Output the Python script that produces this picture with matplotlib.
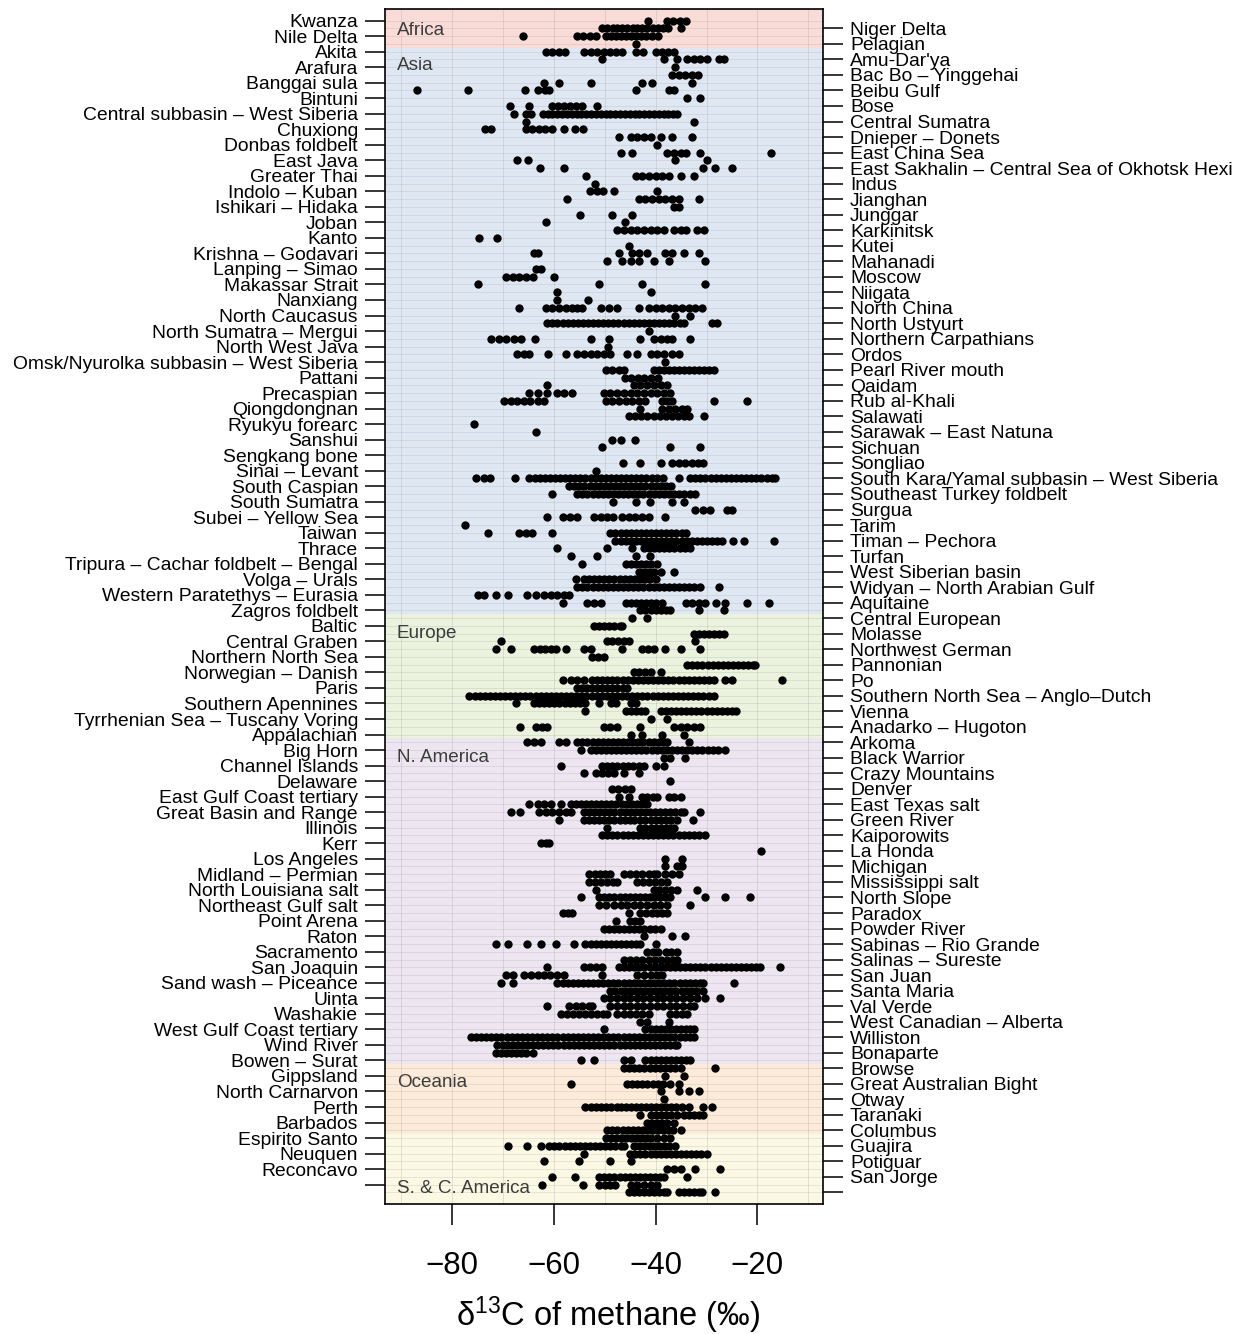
import matplotlib
matplotlib.use("Agg")
import matplotlib.pyplot as plt
from matplotlib.transforms import blended_transform_factory

plt.rcParams['font.family'] = ['Liberation Sans', 'DejaVu Sans']
plt.rcParams['mathtext.fontset'] = 'custom'
plt.rcParams['mathtext.rm'] = 'Liberation Sans'
plt.rcParams['mathtext.it'] = 'Liberation Sans:italic'

# Basin names, alternating left / right ticks from the top
LEFT_LABELS = [
    "Kwanza", "Nile Delta", "Akita", "Arafura", "Banggai sula", "Bintuni",
    "Central subbasin – West Siberia", "Chuxiong", "Donbas foldbelt", "East Java",
    "Greater Thai", "Indolo – Kuban", "Ishikari – Hidaka", "Joban", "Kanto",
    "Krishna – Godavari", "Lanping – Simao", "Makassar Strait", "Nanxiang",
    "North Caucasus", "North Sumatra – Mergui", "North West Java",
    "Omsk/Nyurolka subbasin – West Siberia", "Pattani", "Precaspian", "Qiongdongnan",
    "Ryukyu forearc", "Sanshui", "Sengkang bone", "Sinai – Levant", "South Caspian",
    "South Sumatra", "Subei – Yellow Sea", "Taiwan", "Thrace",
    "Tripura – Cachar foldbelt – Bengal", "Volga – Urals", "Western Paratethys – Eurasia",
    "Zagros foldbelt", "Baltic", "Central Graben", "Northern North Sea",
    "Norwegian – Danish", "Paris", "Southern Apennines", "Tyrrhenian Sea – Tuscany Voring",
    "Appalachian", "Big Horn", "Channel Islands", "Delaware", "East Gulf Coast tertiary",
    "Great Basin and Range", "Illinois", "Kerr", "Los Angeles", "Midland – Permian",
    "North Louisiana salt", "Northeast Gulf salt", "Point Arena", "Raton", "Sacramento",
    "San Joaquin", "Sand wash – Piceance", "Uinta", "Washakie", "West Gulf Coast tertiary",
    "Wind River", "Bowen – Surat", "Gippsland", "North Carnarvon", "Perth", "Barbados",
    "Espirito Santo", "Neuquen", "Reconcavo",
]
RIGHT_LABELS = [
    "Niger Delta", "Pelagian", "Amu-Dar'ya", "Bac Bo – Yinggehai", "Beibu Gulf", "Bose",
    "Central Sumatra", "Dnieper – Donets", "East China Sea",
    "East Sakhalin – Central Sea of Okhotsk Hexi", "Indus", "Jianghan", "Junggar",
    "Karkinitsk", "Kutei", "Mahanadi", "Moscow", "Niigata", "North China", "North Ustyurt",
    "Northern Carpathians", "Ordos", "Pearl River mouth", "Qaidam", "Rub al-Khali",
    "Salawati", "Sarawak – East Natuna", "Sichuan", "Songliao",
    "South Kara/Yamal subbasin – West Siberia", "Southeast Turkey foldbelt", "Surgua",
    "Tarim", "Timan – Pechora", "Turfan", "West Siberian basin",
    "Widyan – North Arabian Gulf", "Aquitaine", "Central European", "Molasse",
    "Northwest German", "Pannonian", "Po", "Southern North Sea – Anglo–Dutch", "Vienna",
    "Anadarko – Hugoton", "Arkoma", "Black Warrior", "Crazy Mountains", "Denver",
    "East Texas salt", "Green River", "Kaiporowits", "La Honda", "Michigan",
    "Mississippi salt", "North Slope", "Paradox", "Powder River", "Sabinas – Rio Grande",
    "Salinas – Sureste", "San Juan", "Santa Maria", "Val Verde", "West Canadian – Alberta",
    "Williston", "Bonaparte", "Browse", "Great Australian Bight", "Otway", "Taranaki",
    "Columbus", "Guajira", "Potiguar", "San Jorge",
]

REGIONS = ["Africa", "Asia", "Europe", "N. America", "Oceania", "S. & C. America"]
REGION_COLORS = ["#f9dcd8", "#dfe8f2", "#ebf2de", "#ede6f1", "#fcebd8", "#fbf9e3"]
REGION_LABEL_ROWS = [2.25, 6.8, 80.0, 95.9, 137.8, 151.5]

# delta13C of methane (permil) for each row, top to bottom, grouped by region
AFRICA = [
    [-41.5, -37.8, -36.5, -35.2, -34.0],
    [-50.5, -49.5, -48.4, -47.5, -46.6, -45.6, -44.5, -43.6, -42.6, -41.6, -40.6, -39.6, -38.6, -37.6, -35.0],
    [-66.0, -55.4, -54.2, -53.0, -51.8, -49.8, -48.8, -47.8, -46.8, -45.8, -44.8, -43.8, -42.8, -41.8, -40.8, -39.6],
    [-43.9],
]

ASIA = [
    [-61.6, -60.3, -59.0, -57.8, -54.1, -52.8, -51.5, -50.2, -48.9, -47.8, -46.6, -43.9, -42.4, -40.0, -38.7, -37.5, -36.4],
    [-50.5, -38.4, -35.8, -33.8, -32.5, -31.2, -30.0, -27.6, -26.6],
    [-36.1],
    [-36.8, -35.5, -34.2, -32.9, -31.6],
    [-61.9, -59.0, -52.8, -42.6, -40.7, -32.8],
    [-87.0, -76.8, -65.7, -63.2, -61.8, -60.9, -43.8, -37.4, -36.4],
    [-33.9, -31.3],
    [-68.6, -64.9, -60.3, -59.1, -58.0, -56.8, -55.6, -54.5, -51.5],
    [-67.8, -65.5, -64.5, -62.2, -61.2, -60.3, -59.3, -58.4, -57.4, -56.5, -55.5, -54.6, -53.6, -52.7, -51.7,
     -50.8, -49.8, -48.9, -47.9, -47.0, -46.0, -45.1, -44.1, -43.2, -42.2, -41.3, -40.3, -39.4, -38.4, -37.5,
     -36.5, -35.8],
    [-65.5, -32.5],
    [-73.6, -72.4, -65.5, -64.3, -63.0, -61.7, -60.4, -58.0, -55.8, -54.2],
    [-47.2, -44.9, -43.6, -42.3, -41.0, -39.0, -36.8, -32.8],
    [-39.7],
    [-46.9, -44.6, -37.7, -36.4, -35.1, -34.1, -31.2, -17.4],
    [-67.3, -65.1, -36.1, -30.0],
    [-62.8, -58.0, -30.6, -28.4, -25.0],
    [-53.6, -43.9, -42.6, -41.3, -40.0, -38.7, -37.4, -35.1, -32.5],
    [-51.9],
    [-52.9, -51.6, -50.3, -48.2, -39.8],
    [-57.5, -43.3, -42.0, -40.7, -39.4, -38.1, -36.8, -35.5, -31.5],
    [-36.4, -35.5],
    [-54.9, -48.5, -44.6],
    [-61.6, -46.1],
    [-47.5, -46.2, -44.9, -43.6, -42.3, -41.0, -39.7, -38.4, -36.4, -35.1, -34.1, -31.8, -30.5],
    [-74.7, -71.2],
    [-45.3],
    [-64.0, -63.1, -47.2, -44.6, -43.3, -41.7, -38.1, -36.8, -34.5, -31.5],
    [-49.6, -46.6, -44.9, -43.3, -40.4, -37.4, -30.2],
    [-63.6, -62.6],
    [-69.4, -68.1, -66.8, -65.5, -64.2, -60.0],
    [-75.0, -51.1, -42.6, -30.2],
    [-59.3, -41.0],
    [-59.3, -53.3],
    [-66.8, -61.6, -60.3, -59.0, -57.7, -56.4, -55.4, -54.4, -50.8, -49.2, -47.5, -43.3, -41.3, -40.0, -38.7,
     -37.4, -36.1, -34.8, -33.5, -32.2, -30.9],
    [-36.1, -33.2],
    [-61.3, -60.3, -59.3, -58.3, -57.3, -56.3, -55.3, -54.3, -53.3, -52.3, -51.3, -50.3, -49.3, -48.3, -47.3,
     -46.3, -45.3, -44.3, -43.3, -42.3, -41.3, -40.3, -39.3, -38.3, -37.3, -36.3, -35.3, -34.5, -28.9, -28.0],
    [-41.3],
    [-72.3, -70.8, -69.4, -67.8, -66.5, -63.8, -52.8, -49.2, -43.0, -40.4, -39.0, -37.7, -36.8, -33.3],
    [-49.4],
    [-67.2, -65.9, -64.9, -61.1, -57.7, -55.4, -54.1, -52.8, -51.5, -50.2, -48.9, -45.6, -43.6, -41.0, -39.7,
     -38.4, -36.8, -35.5],
    [-38.1],
    [-49.8, -48.5, -47.2, -46.2, -40.4, -39.4, -38.4, -37.4, -36.4, -35.4, -34.4, -33.4, -32.4, -31.4, -30.4,
     -29.5, -28.6],
    [-46.1, -44.8, -43.5, -42.2, -40.9, -39.6],
    [-61.3, -44.3, -43.0, -41.7, -40.4, -39.0, -37.7],
    [-64.9, -63.2, -61.3, -59.3, -58.0, -56.4, -50.2, -48.9, -47.5, -46.2, -44.9, -43.6, -42.3, -41.0, -39.7,
     -38.4, -37.1],
    [-69.8, -68.5, -67.2, -65.9, -64.6, -63.2, -61.9, -49.8, -48.5, -47.2, -45.9, -44.6, -43.3, -42.0, -38.7,
     -37.7, -36.7, -28.6, -22.0],
    [-43.0, -38.7, -37.4, -36.1, -34.8, -33.8],
    [-45.2, -44.0, -42.8, -41.6, -40.4, -39.2, -38.0, -36.8, -35.6, -34.4, -33.4, -30.5],
    [-75.8],
    [-63.6],
    [-48.5, -46.9, -44.1],
    [-50.5, -37.2, -31.2],
    [],
    [-46.4, -43.1, -39.0, -36.8, -35.5, -34.2, -32.9, -31.6, -30.6],
    [-51.8],
    [-75.3, -73.7, -72.5, -67.6, -64.8, -63.8, -62.8, -61.8, -60.8, -59.8, -58.8, -57.8, -56.8, -55.8, -54.8,
     -53.8, -52.8, -51.8, -50.8, -49.8, -48.8, -47.8, -46.8, -45.8, -44.8, -43.8, -42.8, -41.8, -40.8, -39.8,
     -38.6, -35.5, -33.2, -32.2, -31.2, -30.2, -29.2, -28.2, -27.2, -26.2, -25.2, -24.2, -23.2, -22.2, -21.2,
     -20.2, -19.2, -18.2, -17.2, -16.5],
    [-57.0, -56.0, -55.0, -54.0, -53.0, -52.0, -51.0, -50.0, -49.0, -48.0, -47.0, -46.0, -45.0, -44.0, -43.0,
     -42.0, -41.0, -40.0, -39.0, -38.0, -37.0],
    [-60.3, -55.4, -54.4, -53.4, -52.4, -51.4, -50.4, -49.4, -48.4, -47.4, -46.4, -45.4, -44.4, -43.4, -42.4,
     -41.4, -40.4, -39.4, -38.4, -37.4, -36.4, -35.4, -34.4, -33.3, -32.2],
    [-48.3, -43.8, -41.2, -36.8, -34.5],
    [-32.2, -30.6, -29.3, -26.0, -25.0],
    [-61.4, -58.3, -56.8, -55.5, -52.1, -50.8, -49.5, -48.3, -46.6, -45.3, -44.0, -42.6, -41.3, -38.1],
    [-77.5],
    [-72.9, -66.8, -65.5, -64.4, -60.3, -48.9, -47.9, -46.9, -45.9, -44.9, -43.9, -42.9, -41.9, -40.9, -39.9,
     -38.9, -37.9, -36.9, -35.9, -34.9, -34.1],
    [-47.9, -46.9, -45.9, -44.9, -43.9, -42.9, -41.9, -40.9, -39.9, -38.9, -37.9, -36.9, -35.9, -34.9, -33.9,
     -32.9, -31.9, -30.9, -29.9, -28.9, -27.9, -27.0, -24.7, -22.7, -16.8],
    [-59.4, -49.6, -44.6, -42.3, -41.3, -40.3, -39.3, -38.3, -37.3, -36.3, -35.3, -34.3, -33.2],
    [-56.6, -51.5, -43.9, -41.2],
    [-54.4, -45.9, -44.9, -43.9, -42.9, -41.9, -40.9, -39.7],
    [-43.3, -42.3, -41.3, -40.3, -39.0, -36.3],
    [-55.7, -54.1, -53.1, -52.1, -51.1, -50.1, -49.1, -48.1, -47.1, -46.1, -45.1, -44.1, -43.1, -42.1, -41.1,
     -40.0],
    [-55.4, -54.4, -53.4, -52.4, -51.4, -50.4, -49.4, -48.4, -47.4, -46.4, -45.4, -44.4, -43.4, -42.4, -41.4,
     -40.4, -39.4, -38.4, -37.4, -36.4, -35.4, -34.4, -33.4, -32.4, -31.2, -27.6],
    [-75.0, -73.7, -71.4, -69.0, -65.2, -63.6, -61.9, -60.6, -59.3, -58.0, -57.0],
    [-58.3, -53.4, -52.1, -50.8, -45.9, -44.9, -43.9, -42.9, -41.9, -40.9, -39.9, -38.7, -34.1, -32.8, -31.5,
     -30.2, -28.2, -26.3, -22.1, -17.8],
    [-43.0, -42.0, -41.0, -40.0, -39.0, -38.0, -37.1, -31.5, -26.6],
]

EUROPE = [
    [-44.6, -41.7],
    [-52.1, -51.1, -50.1, -49.1, -48.1, -47.1, -46.6],
    [-32.5, -31.5, -30.5, -29.5, -28.5, -27.5, -26.6],
    [-70.4, -49.5, -48.5, -47.3, -46.3, -45.3, -32.3],
    [-71.4, -68.5, -63.9, -62.8, -61.7, -60.6, -59.6, -57.7, -54.1, -52.8, -46.6, -42.6, -41.5, -40.4, -38.1,
     -35.1, -31.3],
    [-52.5, -51.4, -50.2],
    [-33.8, -32.8, -31.8, -30.8, -29.8, -28.8, -27.8, -26.8, -25.8, -24.8, -23.8, -22.8, -21.8, -20.8, -20.4],
    [-44.3, -43.2, -42.1, -41.0, -39.0],
    [-58.3, -56.7, -55.4, -54.1, -52.5, -51.5, -50.5, -49.5, -48.5, -47.5, -46.5, -45.5, -44.5, -43.5, -42.5,
     -41.5, -40.5, -39.5, -38.5, -37.5, -36.5, -35.5, -34.5, -33.5, -32.5, -31.5, -30.5, -29.6, -28.6, -26.3,
     -25.0, -15.1],
    [-55.5, -54.5, -53.5, -52.5, -51.5, -50.5, -49.5, -48.5, -47.5, -46.5, -45.6],
    [-76.6, -75.6, -74.6, -73.6, -72.6, -71.6, -70.6, -69.6, -68.6, -67.6, -66.6, -65.6, -64.6, -63.6, -62.6,
     -61.6, -60.6, -59.6, -58.6, -57.6, -56.6, -55.6, -54.6, -53.6, -52.6, -51.6, -50.6, -49.6, -48.6, -47.6,
     -46.6, -45.6, -44.6, -43.6, -42.6, -41.6, -40.6, -39.6, -38.6, -37.6, -36.6, -35.6, -34.6, -33.6, -32.6,
     -31.6, -30.6, -29.6, -28.6],
    [-67.5, -63.9, -62.9, -61.9, -60.9, -59.9, -58.9, -57.9, -56.9, -55.9, -54.9, -53.9, -51.1, -48.8, -47.8,
     -44.9, -43.8],
    [-53.8, -45.9, -44.9, -43.9, -42.9, -42.0, -39.0, -38.0, -37.0, -36.0, -35.0, -34.0, -33.0, -32.0, -31.0,
     -30.0, -29.0, -28.0, -27.0, -26.0, -25.0, -24.3],
    [-41.0, -37.7],
    [-66.6, -63.6, -62.3, -61.3, -50.2, -48.9, -47.5, -43.0, -36.4, -35.1, -33.8, -32.5, -31.2],
    [-44.9, -42.6, -38.7, -34.5],
]

N_AMERICA = [
    [-65.2, -63.9, -62.6, -59.0, -57.7, -55.4, -54.4, -53.4, -52.4, -51.4, -50.4, -49.4, -48.4, -47.4, -46.4,
     -45.4, -44.4, -43.4, -42.4, -41.4, -40.4, -39.4, -38.4, -37.7, -33.5],
    [-54.7, -52.8, -51.8, -50.8, -49.8, -48.8, -47.8, -46.8, -45.8, -44.8, -43.8, -42.8, -41.8, -40.8, -39.8,
     -38.8, -37.8, -36.8, -35.8, -34.8, -33.8, -32.8, -31.8, -30.8, -29.8, -28.8, -27.8, -26.3],
    [-38.4, -37.1, -34.2],
    [-58.7, -50.5, -49.5, -48.5, -47.5, -46.5, -45.5, -44.5, -43.3, -42.3, -40.0, -38.4],
    [-54.1, -51.8, -50.6, -49.4, -48.2, -46.2, -43.3],
    [-37.1],
    [-48.5, -47.3, -46.1, -44.9],
    [-47.2, -45.2, -42.6, -41.6, -40.6, -39.7, -37.4, -36.4, -35.1],
    [-64.9, -63.2, -62.0, -60.5, -58.7, -56.7, -55.7, -54.7, -53.7, -52.7, -51.7, -50.7, -49.7, -48.7, -47.7,
     -46.7, -45.7, -44.7, -43.7, -42.7, -41.7],
    [-68.5, -66.6, -62.9, -61.6, -60.3, -59.0, -57.7, -56.7, -54.1, -53.1, -52.1, -51.1, -50.1, -49.1, -48.1,
     -47.1, -46.1, -45.1, -44.1, -43.1, -42.1, -41.1, -40.1, -39.1, -38.1, -37.1, -36.1, -35.1, -34.5, -31.2],
    [-59.0, -54.1, -53.1, -52.1, -51.1, -50.1, -49.1, -48.1, -47.1, -46.1, -45.1, -44.3, -43.0, -42.0, -41.0,
     -40.0, -39.0, -38.0, -37.0, -35.8, -32.6],
    [-49.5, -43.0, -42.0, -41.0, -40.0, -39.0, -38.0, -37.2, -36.4],
    [-50.5, -49.5, -48.5, -47.5, -46.5, -45.5, -44.5, -43.5, -42.5, -41.5, -40.5, -39.5, -38.5, -37.5, -36.5,
     -35.5, -34.5, -33.5, -32.5, -31.5, -30.2],
    [-62.6, -61.6, -61.0],
    [-19.3],
    [-38.1, -34.9],
    [-38.1, -35.8, -34.9],
    [-53.1, -52.0, -50.9, -49.9, -48.9, -46.2, -45.0, -43.8, -42.6, -41.4, -40.3, -39.7, -38.1, -36.8, -35.5],
    [-53.1, -51.9, -50.7, -49.5, -48.4, -47.5, -43.6, -42.5, -41.3, -40.2, -39.0, -37.7],
    [-51.8, -40.4, -39.3, -38.2, -37.0, -35.8, -31.9],
    [-54.7, -51.1, -50.1, -49.1, -48.1, -47.1, -46.1, -45.1, -44.1, -43.1, -42.1, -41.1, -40.1, -39.1, -38.1,
     -37.1, -30.2, -26.3, -21.4],
    [-51.1, -49.8, -48.2, -46.9, -45.6, -44.3, -43.0, -41.7, -40.4, -39.1, -37.7, -33.2],
    [-58.3, -57.2, -56.4, -45.3, -43.0, -41.9, -40.8, -39.7, -38.7, -37.7],
    [-47.7, -45.0, -44.0, -43.0],
    [-50.2, -49.2, -48.2, -47.2, -46.2, -45.2, -44.2, -43.2, -42.2, -41.2, -40.2, -39.0],
    [-42.3, -36.8, -34.2],
    [-71.4, -69.0, -65.2, -62.6, -59.6, -56.0, -53.8, -52.8, -51.8, -50.8, -49.8, -48.8, -47.8, -46.8, -45.8,
     -44.8, -43.8, -43.0, -40.0],
    [-41.7, -40.6, -39.5, -38.0, -36.9, -35.8],
    [-46.2, -45.0, -43.8, -42.6, -41.4, -40.2, -39.0, -37.8, -36.6, -35.8],
    [-61.4, -54.1, -52.9, -51.7, -50.5, -47.2, -46.2, -45.2, -44.2, -43.2, -42.2, -41.2, -40.2, -39.2, -38.2,
     -37.2, -36.2, -35.2, -34.2, -33.2, -32.2, -31.2, -30.2, -29.2, -28.2, -27.2, -26.2, -25.2, -24.2, -23.2,
     -22.2, -21.2, -20.2, -19.5, -15.5],
    [-69.4, -68.1, -65.8, -64.5, -63.2, -62.0, -60.7, -59.4, -58.1, -50.5, -43.6, -42.3, -41.0, -39.7, -38.7],
    [-70.4, -68.1, -59.3, -58.3, -57.3, -56.3, -55.3, -54.3, -53.3, -52.3, -51.3, -50.3, -49.3, -48.3, -47.3,
     -46.3, -45.3, -44.3, -43.3, -42.3, -41.3, -40.3, -39.3, -38.3, -37.3, -36.3, -35.3, -34.3, -33.3, -32.3,
     -31.3, -30.6, -24.5],
    [-48.9, -47.9, -46.9, -45.9, -44.9, -43.9, -42.9, -41.9, -40.9, -39.9, -38.9, -37.9, -36.9, -35.9, -34.9,
     -33.9, -32.9, -31.9, -30.6],
    [-50.2, -48.9, -47.6, -46.3, -45.0, -43.7, -42.4, -41.1, -39.8, -38.5, -37.2, -35.9, -34.6, -33.3, -31.9,
     -30.2, -27.3],
    [-61.3, -57.0, -55.7, -54.4, -53.1, -52.5, -48.9, -47.6, -46.3, -45.0, -43.7, -42.4, -41.1, -39.8, -38.5,
     -37.2, -35.9, -34.6, -33.3, -32.5],
    [-58.7, -57.5, -56.3, -55.1, -53.9, -52.7, -51.5, -50.3, -49.5, -47.5, -46.3, -45.1, -43.9, -42.7, -41.3,
     -37.1, -35.9, -34.8, -33.8],
    [-43.0, -41.7, -37.4],
    [-50.2, -42.0, -41.0, -40.0, -39.0, -38.0, -37.0, -36.0, -35.0, -34.0, -33.2, -32.5],
    [-76.3, -75.3, -74.3, -73.3, -72.3, -71.3, -70.3, -69.3, -68.3, -67.3, -66.3, -65.3, -64.3, -63.3, -62.3,
     -61.3, -60.3, -59.3, -58.3, -57.3, -56.3, -55.3, -54.3, -53.3, -52.3, -51.3, -50.3, -49.3, -48.3, -47.3,
     -46.3, -45.3, -44.3, -43.3, -42.3, -41.3, -40.3, -39.3, -38.3, -37.3, -36.3, -35.3, -34.3, -33.3, -32.5],
    [-71.1, -70.1, -69.1, -68.1, -67.1, -66.1, -65.1, -64.1, -63.1, -62.1, -61.1, -60.1, -59.1, -58.1, -57.1,
     -56.1, -55.1, -54.1, -53.1, -52.1, -51.1, -50.1, -49.1, -48.1, -47.1, -46.1, -45.1, -44.1, -43.1, -42.1,
     -41.1, -40.1, -39.1, -38.1, -37.1, -36.1, -35.8],
    [-71.4, -70.4, -69.4, -68.4, -67.4, -66.4, -65.4, -64.2],
    [-54.7, -52.1, -46.2, -44.9, -42.0, -41.0, -40.0, -39.0, -38.0, -37.0, -36.0, -35.0, -34.0, -33.2],
]

OCEANIA = [
    [-46.2, -45.2, -44.2, -43.2, -42.2, -41.2, -40.2, -39.2, -38.2, -37.2, -36.2, -35.1, -28.3],
    [-38.1, -34.5],
    [-56.7, -45.6, -44.6, -43.6, -42.6, -41.6, -40.6, -39.6, -38.6, -37.1, -35.5],
    [-39.0, -35.5, -33.5, -31.5],
    [-38.4],
    [-53.8, -52.8, -51.8, -50.8, -49.8, -48.8, -47.5, -46.9, -45.9, -44.9, -43.9, -42.9, -41.9, -40.9, -39.9,
     -38.9, -37.9, -36.9, -35.9, -34.9, -33.5, -30.6, -28.9],
    [-43.0, -41.0, -40.0, -39.0, -38.0, -37.0, -35.8, -34.5, -33.5, -32.5, -31.5, -30.6],
    [-41.7, -40.7, -39.7, -38.7, -37.7, -36.4],
    [-49.5, -48.5, -47.5, -46.5, -45.5, -44.5, -43.5, -42.5, -41.5, -40.5, -39.5, -38.5, -37.5, -36.5, -35.1],
]

SC_AMERICA = [
    [-49.8, -48.8, -47.8, -46.8, -45.8, -44.8, -43.8, -42.8, -41.8, -41.0, -39.7, -38.4, -37.1],
    [-69.0, -65.2, -62.6, -60.9, -59.9, -58.9, -57.9, -56.9, -55.9, -54.9, -53.9, -52.9, -51.9, -50.9, -49.9,
     -48.9, -47.9, -46.9, -46.2, -44.3, -43.3, -42.3, -41.3, -40.3, -39.3, -38.3, -37.3, -36.1],
    [-54.1, -45.0, -44.0, -43.0, -42.0, -41.0, -40.0, -39.0, -38.0, -37.0, -36.0, -35.0, -34.0, -33.0, -32.0,
     -31.0, -29.9],
    [-61.9, -55.1, -48.9, -44.9],
    [-37.7, -36.4, -35.1, -32.2, -27.4],
    [-60.3, -55.9, -51.1, -50.1, -49.1, -48.1, -47.1, -46.1, -45.1, -44.1, -43.1, -42.1, -41.1, -40.1, -39.1,
     -38.4, -33.8],
    [-62.3, -54.2, -51.1, -50.0, -48.9, -48.0, -44.9, -43.6, -42.3, -41.0, -39.7],
    [-45.3, -44.3, -43.3, -42.3, -41.3, -40.3, -39.3, -38.3, -37.7, -35.5, -34.5, -33.5, -32.5, -31.5, -30.9,
     -28.3],
]

X_TICKS = [-80, -60, -40, -20]

region_rows = [AFRICA, ASIA, EUROPE, N_AMERICA, OCEANIA, SC_AMERICA]
n_rows = sum(len(r) for r in region_rows)

W, H = 1243, 1334
fig = plt.figure(figsize=(W / 100, H / 100), dpi=100)
ax = fig.add_axes([385 / W, 1 - 1204 / H, 438 / W, 1195 / H])
XLIM = (-93.2, -7.1)
YLIM = (n_rows + 1.5, -0.5)
ax.set_xlim(*XLIM)
ax.set_ylim(*YLIM)

# coloured background band for each region
start = 1
label_tf = blended_transform_factory(ax.transAxes, ax.transData)
for name, rows, color, lab_y in zip(REGIONS, region_rows, REGION_COLORS, REGION_LABEL_ROWS):
    end = start + len(rows) - 1
    top = start - 0.5 if start > 1 else YLIM[1] - 1
    bottom = end + 0.5 if end < n_rows else YLIM[0] + 1
    ax.axhspan(top, bottom, color=color, lw=0, zorder=0)
    ax.text(0.027, lab_y, name, transform=label_tf, ha="left", va="center",
            fontsize=13.6, color="#3c3c3c", zorder=4)
    start = end + 1

# faint reference grid
all_rows = list(range(1, n_rows + 1))
ax.hlines(all_rows, XLIM[0], XLIM[1], color="#9a9a9a", lw=0.5, alpha=0.3, zorder=1)
ax.vlines(range(-90, -9, 10), YLIM[1], YLIM[0], color="#9a9a9a", lw=0.6, alpha=0.3, zorder=1)

# points
row = 1
for rows in region_rows:
    for vals in rows:
        if vals:
            ax.plot(vals, [row] * len(vals), "o", ms=6.0, color="black", mec="none", zorder=3)
        row += 1

for sp in ax.spines.values():
    sp.set_linewidth(1.2)
    sp.set_zorder(5)

ax.set_xticks(X_TICKS)
ax.set_xticklabels([f"\u2212{abs(v)}" for v in X_TICKS])
ax.tick_params(axis="x", direction="out", length=15, width=1.1, labelsize=22.5, pad=19,
               top=False, bottom=True)

odd_rows = list(range(1, n_rows + 1, 2))
even_rows = list(range(2, n_rows + 1, 2))
ax.set_yticks(odd_rows)
ax.set_yticklabels(LEFT_LABELS + [""] * (len(odd_rows) - len(LEFT_LABELS)))
ax.tick_params(axis="y", direction="out", length=14.5, width=1.1, labelsize=13.9, pad=5,
               left=True, right=False)

ax2 = ax.twinx()
ax2.set_ylim(*YLIM)
ax2.set_yticks(even_rows)
ax2.set_yticklabels(RIGHT_LABELS + [""] * (len(even_rows) - len(RIGHT_LABELS)))
ax2.tick_params(axis="y", direction="out", length=14.5, width=1.1, labelsize=13.9, pad=5)
for sp in ax2.spines.values():
    sp.set_visible(False)

fig.text(608 / W, 1 - 1326 / H, r"δ$^{13}$C of methane (‰)", ha="center", va="baseline",
         fontsize=23.5)

fig.savefig("out.png", dpi=100)
